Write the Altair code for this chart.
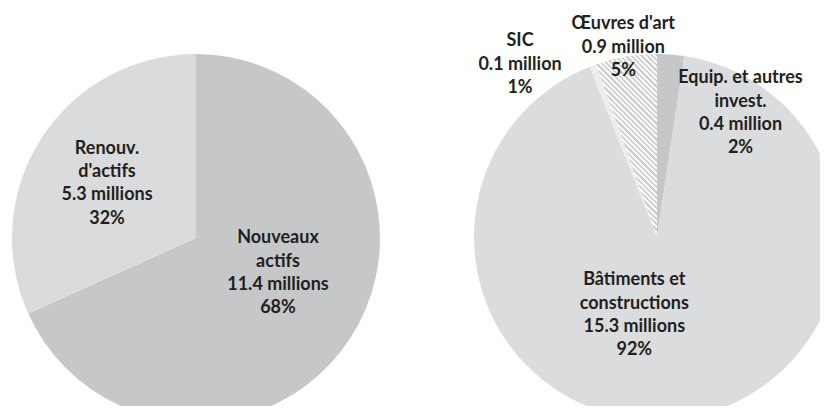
import altair as alt
import pandas as pd

# ---- data -------------------------------------------------------------
left_names = ["Nouveaux\nactifs", "Renouv.\nd'actifs"]
left_values = [11.4, 5.3]

right_names = ["Equip. et autres\ninvest.", "Bâtiments et\nconstructions", "SIC", "Œuvres d'art"]
right_values = [0.4, 15.3, 0.1, 0.9]

# ---- styles -----------------------------------------------------------
left_colors = ["#c6c7c9", "#dadbdd"]
right_colors = ["#c6c7c9", "#dbdcde", "#ededee", "#f7f7f7"]
TEXT_COLOR = "#231f20"
FONT = "Lato"
FONT_SIZE = 18
LINE_H = 23.4

# label placement: (radius, dx, dy) of the label block centre relative to slice mid-angle
left_label_pos = [(100, -2, -19), (100, -5, 0)]
right_label_pos = [(100, 76, -24), (100, -34, -21), (200, -67, 15), (200, 0, 8)]

LEFT_CENTER = (188, 230)
RIGHT_CENTER = (649, 229)
LEFT_R = 184
RIGHT_R = 183


def fmt_value(v):
    unit = "million" if v < 2 else "millions"
    return f"{v:.1f} {unit}"


def make_df(prefix, names, values):
    total = sum(values)
    rows = []
    for i, (n, v) in enumerate(zip(names, values)):
        pct = round(100 * v / total)
        rows.append({
            "key": f"{prefix}{i}",
            "i": i,
            "v": v,
            "label": f"{n}\n{fmt_value(v)}\n{pct}%",
        })
    return pd.DataFrame(rows)


left_df = make_df("L", left_names, left_values)
right_df = make_df("R", right_names, right_values)

domain = list(left_df["key"]) + list(right_df["key"])
rng = left_colors + right_colors
color_scale = alt.Scale(domain=domain, range=rng)


def pie(df, center, r):
    return alt.Chart(df).mark_arc(radius=r).encode(
        theta=alt.Theta("v:Q", stack=True),
        order=alt.Order("i:Q"),
        color=alt.Color("key:N", scale=color_scale, legend=None),
        x=alt.value(center[0]),
        y=alt.value(center[1]),
    )


def labels(df, center, positions):
    layers = []
    for k, (rad, dx, dy) in enumerate(positions):
        n_lines = df["label"].iloc[k].count("\n") + 1
        layers.append(
            alt.Chart(df).mark_text(
                radius=rad, dx=dx, dy=dy - (n_lines - 1) * LINE_H / 2,
                font=FONT, fontWeight="bold",
                fontSize=FONT_SIZE, lineBreak="\n", lineHeight=LINE_H, color=TEXT_COLOR,
                align="center", baseline="middle",
            ).encode(
                theta=alt.Theta("v:Q", stack=True),
                order=alt.Order("i:Q"),
                text="label:N",
                opacity=alt.condition(f"datum.i == {k}", alt.value(1), alt.value(0)),
                x=alt.value(center[0]),
                y=alt.value(center[1]),
            )
        )
    return layers


# hatch pattern for "Œuvres d'art" built as a striped linear gradient
N_STRIPES = 46
stops = []
for j in range(N_STRIPES):
    a = j / N_STRIPES
    b = (j + 0.58) / N_STRIPES
    c = (j + 1) / N_STRIPES
    stops += [
        {"offset": a, "color": "#f8f8f8"},
        {"offset": b, "color": "#f8f8f8"},
        {"offset": b, "color": "#cdcdcd"},
        {"offset": c, "color": "#cdcdcd"},
    ]
hatch = {"gradient": "linear", "x1": 0, "y1": 1, "x2": 0.3986, "y2": -0.1998, "stops": stops}

hatch_layer = alt.Chart(right_df).mark_arc(radius=RIGHT_R, fill=hatch).encode(
    theta=alt.Theta("v:Q", stack=True),
    order=alt.Order("i:Q"),
    opacity=alt.condition("datum.i == 3", alt.value(1), alt.value(0)),
    x=alt.value(RIGHT_CENTER[0]),
    y=alt.value(RIGHT_CENTER[1]),
)

chart = alt.layer(
    pie(left_df, LEFT_CENTER, LEFT_R),
    pie(right_df, RIGHT_CENTER, RIGHT_R),
    hatch_layer,
    *labels(left_df, LEFT_CENTER, left_label_pos),
    *labels(right_df, RIGHT_CENTER, right_label_pos),
).properties(
    width=812, height=398, padding=0, autosize=alt.AutoSizeParams(type="none"),
    background="white",
).configure_view(stroke="transparent")

chart.save("out.html", embed_options={"renderer": "svg", "actions": False})
